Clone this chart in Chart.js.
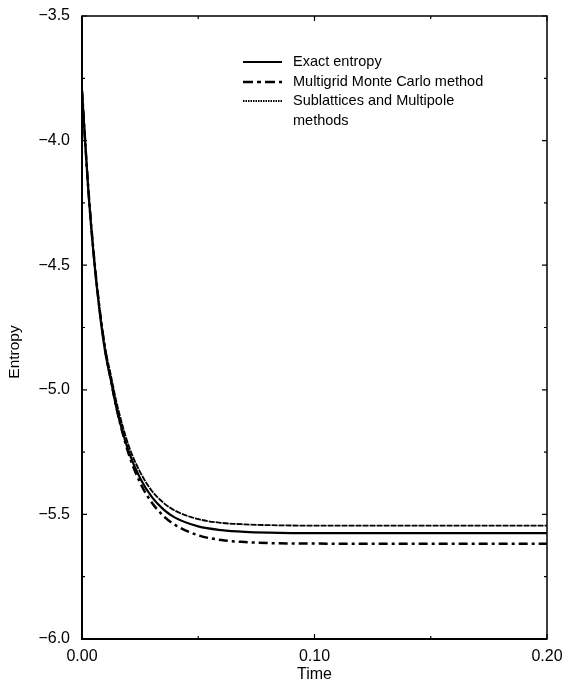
<!DOCTYPE html>
<html>
<head>
<meta charset="utf-8">
<script src="https://cdn.jsdelivr.net/npm/chart.js@4.4.1/dist/chart.umd.min.js"></script>
<style>
  html, body { margin: 0; padding: 0; background: #fff; }
  #wrap { width: 565px; height: 684px; }
</style>
</head>
<body>
<div id="wrap"><canvas id="c" width="565" height="684"></canvas></div>
<script>
// Sample times
const times = [0, 0.0025, 0.005, 0.0075, 0.01, 0.0125, 0.015, 0.02, 0.025, 0.03,
               0.035, 0.04, 0.05, 0.06, 0.07, 0.08, 0.10, 0.12, 0.15, 0.20];

// Entropy series
const exactEntropy = [-3.800, -4.170, -4.460, -4.680, -4.850, -4.965, -5.080, -5.245, -5.355, -5.430,
                      -5.480, -5.513, -5.548, -5.563, -5.570, -5.573, -5.575, -5.575, -5.575, -5.575];
const multigridEntropy = [-3.800, -4.165, -4.450, -4.670, -4.840, -4.965, -5.080, -5.255, -5.373, -5.452,
                          -5.506, -5.542, -5.584, -5.603, -5.611, -5.615, -5.617, -5.618, -5.618, -5.618];
const sublatticeEntropy = [-3.800, -4.165, -4.450, -4.667, -4.833, -4.945, -5.056, -5.222, -5.330, -5.405,
                           -5.453, -5.485, -5.519, -5.534, -5.540, -5.543, -5.545, -5.545, -5.545, -5.545];

// Axis tick labels
const xTickLabels = {0: '0.00', 0.1: '0.10', 0.2: '0.20'};
const yTickLabels = {'-6': '\u22126.0', '-5.5': '\u22125.5', '-5': '\u22125.0', '-4.5': '\u22124.5', '-4': '\u22124.0', '-3.5': '\u22123.5'};

const seriesNames = ['Exact entropy', 'Multigrid Monte Carlo method', ['Sublattices and Multipole', 'methods']];
const yTitle = 'Entropy';

const FONT = '"Liberation Sans", Arial, Helvetica, sans-serif';

const toPoints = ys => times.map((t, i) => ({x: t, y: ys[i]}));

// Frame, inward tick marks, y title and the legend box
const framePlugin = {
  id: 'frame',
  afterDatasetsDraw(chart) {
    const {ctx, chartArea: a, scales: {x, y}} = chart;
    ctx.save();
    ctx.strokeStyle = '#000';
    ctx.lineWidth = 1.5;
    ctx.strokeRect(a.left, a.top, a.right - a.left, a.bottom - a.top);
    ctx.lineWidth = 2;
    ctx.beginPath();
    ctx.moveTo(a.left, a.top); ctx.lineTo(a.left, a.bottom); ctx.lineTo(a.right, a.bottom);
    ctx.stroke();
    ctx.lineWidth = 1.2;
    ctx.beginPath();
    for (let v = -6; v <= -3.5 + 1e-9; v += 0.25) {
      const py = y.getPixelForValue(v);
      const len = Math.abs(v * 2 - Math.round(v * 2)) < 1e-6 ? 5 : 3;
      ctx.moveTo(a.left, py); ctx.lineTo(a.left + len, py);
      ctx.moveTo(a.right, py); ctx.lineTo(a.right - len, py);
    }
    for (let v = 0; v <= 0.2 + 1e-9; v += 0.05) {
      const px = x.getPixelForValue(v);
      const len = Math.abs(v * 10 - Math.round(v * 10)) < 1e-6 ? 5 : 3;
      ctx.moveTo(px, a.bottom); ctx.lineTo(px, a.bottom - len);
      ctx.moveTo(px, a.top); ctx.lineTo(px, a.top + len);
    }
    ctx.stroke();

    // y axis title
    ctx.save();
    ctx.translate(15, 352);
    ctx.rotate(-Math.PI / 2);
    ctx.font = '15.5px ' + FONT;
    ctx.fillStyle = '#000';
    ctx.textAlign = 'center';
    ctx.textBaseline = 'middle';
    ctx.fillText(yTitle, 0, 0);
    ctx.restore();

    // legend
    const lx0 = 243, lx1 = 282, tx = 293;
    const rows = [62, 82, 101];
    ctx.font = '14.5px ' + FONT;
    ctx.fillStyle = '#000';
    ctx.textBaseline = 'middle';
    ctx.textAlign = 'left';
    chart.data.datasets.forEach((ds, i) => {
      ctx.save();
      ctx.strokeStyle = ds.borderColor;
      ctx.lineWidth = ds.borderWidth;
      ctx.setLineDash(ds.legendDash || ds.borderDash || []);
      ctx.beginPath();
      ctx.moveTo(lx0, rows[i]);
      ctx.lineTo(lx1, rows[i]);
      ctx.stroke();
      ctx.restore();
      const name = seriesNames[i];
      if (Array.isArray(name)) {
        name.forEach((line, j) => ctx.fillText(line, tx, rows[i] + j * 19.5));
      } else {
        ctx.fillText(name, tx, rows[i]);
      }
    });
    ctx.restore();
  }
};

new Chart(document.getElementById('c'), {
  type: 'line',
  data: {
    datasets: [
      {
        label: 'Exact entropy',
        data: toPoints(exactEntropy),
        borderColor: '#000',
        borderWidth: 2.2,
        pointRadius: 0,
        fill: false,
        cubicInterpolationMode: 'monotone'
      },
      {
        label: 'Multigrid Monte Carlo method',
        data: toPoints(multigridEntropy),
        borderColor: '#000',
        borderWidth: 2.5,
        borderDash: [9, 4, 3, 4],
        legendDash: [10, 4, 4, 4],
        pointRadius: 0,
        fill: false,
        cubicInterpolationMode: 'monotone'
      },
      {
        label: 'Sublattices and Multipole methods',
        data: toPoints(sublatticeEntropy),
        borderColor: '#000',
        borderWidth: 1.8,
        borderDash: [6, 1],
        legendDash: [1.5, 1],
        pointRadius: 0,
        fill: false,
        cubicInterpolationMode: 'monotone'
      }
    ]
  },
  options: {
    responsive: false,
    animation: false,
    devicePixelRatio: 1,
    layout: { padding: { top: 16, right: 18, left: 0, bottom: 0 } },
    plugins: { legend: { display: false }, tooltip: { enabled: false } },
    scales: {
      x: {
        type: 'linear',
        min: 0, max: 0.2,
        afterFit(s) { s.height = 45; s.paddingLeft = 0; s.paddingRight = 0; },
        grid: { display: false, drawTicks: false },
        border: { display: false },
        ticks: {
          stepSize: 0.1,
          padding: 8,
          color: '#000',
          maxRotation: 0,
          font: { family: FONT, size: 16 },
          callback: v => xTickLabels[Math.round(v * 10) / 10] ?? ''
        },
        title: {
          display: true, text: 'Time', color: '#000',
          font: { family: FONT, size: 16 },
          padding: { top: 0, bottom: 0 }
        }
      },
      y: {
        type: 'linear',
        min: -6, max: -3.5,
        afterFit(s) { s.width = 82; s.paddingTop = 0; s.paddingBottom = 0; },
        grid: { display: false, drawTicks: false },
        border: { display: false },
        ticks: {
          stepSize: 0.5,
          padding: 12,
          color: '#000',
          font: { family: FONT, size: 16 },
          callback: v => yTickLabels[String(Math.round(v * 2) / 2)] ?? ''
        }
      }
    }
  },
  plugins: [framePlugin]
});
</script>
</body>
</html>
